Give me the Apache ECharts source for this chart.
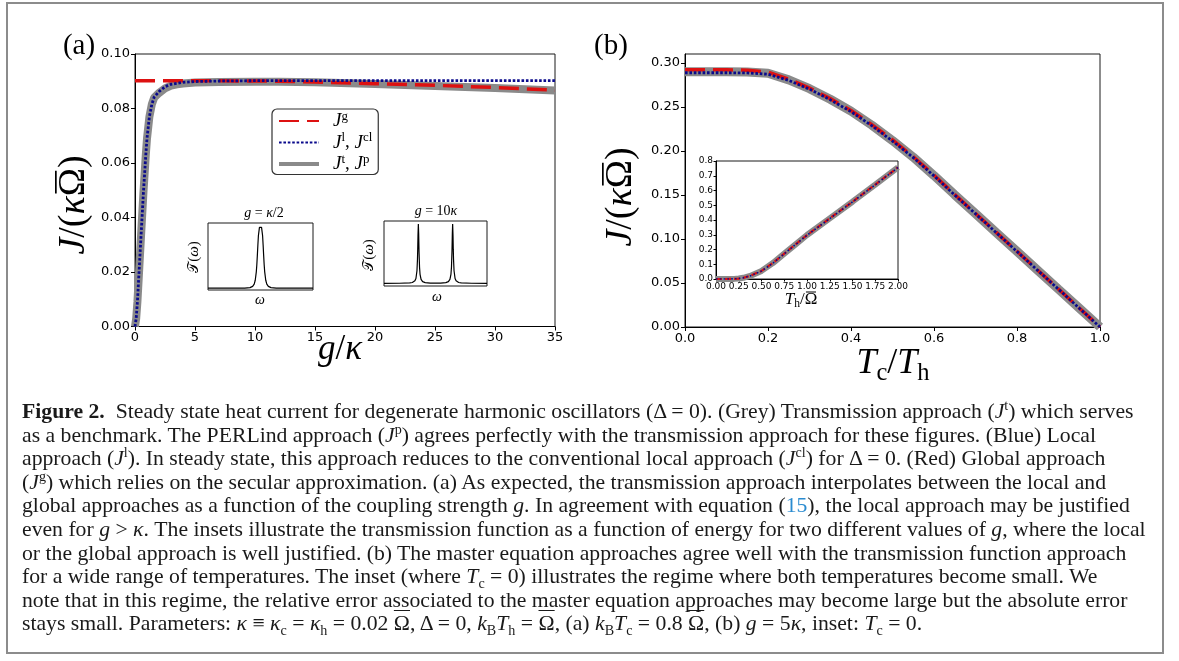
<!DOCTYPE html>
<html>
<head>
<meta charset="utf-8">
<script src="https://cdn.jsdelivr.net/npm/echarts@6/dist/echarts.min.js"></script>
<style>
html, body { margin: 0; padding: 0; background: #fff; }
#wrap { position: relative; width: 1179px; height: 661px; overflow: hidden; }
#chart { position: absolute; left: 0; top: 0; width: 1179px; height: 661px; }
#frame { position: absolute; left: 6px; top: 2px; width: 1154px; height: 648px; border: 2px solid #8c8c8c; pointer-events: none; }
#caption { position: absolute; left: 22px; top: 400px; font-family: 'Liberation Serif', serif; font-size: 18px; line-height: 23.6px; color: #1a1a1a; white-space: nowrap; }
#caption sup, #caption sub { font-size: 65%; line-height: 0; }
#caption .ref { color: #2a8bd0; }
#caption .ob { text-decoration: overline; text-decoration-thickness: 1px; }
</style>
</head>
<body>
<div id="wrap">
  <div id="chart"></div>
  <div id="frame"></div>
  <div id="caption">
    <div class="ln"><b>Figure 2.</b>&nbsp; Steady state heat current for degenerate harmonic oscillators (Δ = 0). (Grey) Transmission approach (<i>J</i><sup>t</sup>) which serves</div>
    <div class="ln">as a benchmark. The PERLind approach (<i>J</i><sup>p</sup>) agrees perfectly with the transmission approach for these figures. (Blue) Local</div>
    <div class="ln">approach (<i>J</i><sup>l</sup>). In steady state, this approach reduces to the conventional local approach (<i>J</i><sup>cl</sup>) for Δ = 0. (Red) Global approach</div>
    <div class="ln">(<i>J</i><sup>g</sup>) which relies on the secular approximation. (a) As expected, the transmission approach interpolates between the local and</div>
    <div class="ln">global approaches as a function of the coupling strength <i>g</i>. In agreement with equation (<span class="ref">15</span>), the local approach may be justified</div>
    <div class="ln">even for <i>g</i> &gt; <i>κ</i>. The insets illustrate the transmission function as a function of energy for two different values of <i>g</i>, where the local</div>
    <div class="ln">or the global approach is well justified. (b) The master equation approaches agree well with the transmission function approach</div>
    <div class="ln">for a wide range of temperatures. The inset (where <i>T</i><sub>c</sub> = 0) illustrates the regime where both temperatures become small. We</div>
    <div class="ln">note that in this regime, the relative error associated to the master equation approaches may become large but the absolute error</div>
    <div class="ln">stays small. Parameters: <i>κ</i> ≡ <i>κ</i><sub>c</sub> = <i>κ</i><sub>h</sub> = 0.02 <span class="ob">Ω</span>, Δ = 0, <i>k</i><sub>B</sub><i>T</i><sub>h</sub> = <span class="ob">Ω</span>, (a) <i>k</i><sub>B</sub><i>T</i><sub>c</sub> = 0.8 <span class="ob">Ω</span>, (b) <i>g</i> = 5<i>κ</i>, inset: <i>T</i><sub>c</sub> = 0.</div>
  </div>
</div>
<script>
// ---- panel (a): heat current vs g/kappa ----
const gT  = [0, 0.1, 0.2, 0.3, 0.4, 0.5, 0.6, 0.7, 0.8, 0.9, 1.0, 1.2, 1.4, 1.6, 2.0, 2.5, 3, 3.5, 4, 5, 7, 10, 12, 15, 20, 25, 30, 35]
const jtA = [0, 0.003, 0.009, 0.017, 0.025, 0.033, 0.041, 0.049, 0.056, 0.063, 0.069, 0.077, 0.0815, 0.0840, 0.0857, 0.0874, 0.0884, 0.0889, 0.0892, 0.0895, 0.0897, 0.0898, 0.0898, 0.0896, 0.0890, 0.0883, 0.0875, 0.0866]
const gL  = [0, 0.1, 0.2, 0.3, 0.4, 0.5, 0.6, 0.7, 0.8, 0.9, 1.0, 1.2, 1.4, 1.6, 2.0, 2.5, 3, 4, 5, 7, 10, 35]
const jlA = [0, 0.003, 0.009, 0.017, 0.025, 0.033, 0.041, 0.049, 0.056, 0.063, 0.069, 0.077, 0.0815, 0.0842, 0.0862, 0.0880, 0.0889, 0.0896, 0.0899, 0.0901, 0.0902, 0.0902]
const gG  = [0, 5, 10, 12, 15, 18.5, 20, 25, 30, 35]
const jgA = [0.0902, 0.0902, 0.0901, 0.0900, 0.0897, 0.0893, 0.0891, 0.0885, 0.0877, 0.0867]
const xTicksA = [0, 5, 10, 15, 20, 25, 30, 35]
const yTicksA = [0, 0.02, 0.04, 0.06, 0.08, 0.10]

// insets of (a): transmission function T(omega), omega in arbitrary units
const wA1 = [-1, -0.5, -0.3, -0.2, -0.15, -0.12, -0.1, -0.08, -0.07, -0.06, -0.05, -0.04, -0.02, 0, 0.02, 0.04, 0.05, 0.06, 0.07, 0.08, 0.1, 0.12, 0.15, 0.2, 0.3, 0.5, 1]
const tA1 = [0, 0.0003, 0.0018, 0.0092, 0.0283, 0.0665, 0.129, 0.265, 0.381, 0.533, 0.703, 0.852, 0.989, 1, 0.989, 0.852, 0.703, 0.533, 0.381, 0.265, 0.129, 0.0665, 0.0283, 0.0092, 0.0018, 0.0003, 0]
const wA2 = [-1, -0.7, -0.5, -0.45, -0.42, -0.4, -0.38, -0.36, -0.35, -0.345, -0.34, -0.333, -0.327, -0.32, -0.31, -0.3, -0.28, -0.25, -0.2, -0.1, 0, 0.1, 0.2, 0.25, 0.28, 0.3, 0.31, 0.32, 0.327, 0.333, 0.34, 0.345, 0.35, 0.36, 0.38, 0.4, 0.42, 0.45, 0.5, 0.7, 1]
const tA2 = [0.0005, 0.0017, 0.0073, 0.0144, 0.0256, 0.042, 0.081, 0.212, 0.405, 0.576, 0.8, 1, 0.845, 0.537, 0.270, 0.152, 0.066, 0.028, 0.0117, 0.0046, 0.0035, 0.0046, 0.0117, 0.028, 0.066, 0.152, 0.270, 0.537, 0.845, 1, 0.8, 0.576, 0.405, 0.212, 0.081, 0.042, 0.0256, 0.0144, 0.0073, 0.0017, 0.0005]

// ---- panel (b): heat current vs Tc/Th ----
const tRatio = [0, 0.05, 0.1, 0.15, 0.2, 0.25, 0.3, 0.35, 0.4, 0.45, 0.5, 0.55, 0.6, 0.65, 0.7, 0.75, 0.8, 0.85, 0.9, 0.95, 1.0]
const jgB = [0.2923, 0.2923, 0.2923, 0.2918, 0.2895, 0.2815, 0.2715, 0.2595, 0.2460, 0.2300, 0.2125, 0.1935, 0.1725, 0.1505, 0.1290, 0.1075, 0.0860, 0.0645, 0.0430, 0.0215, 0]
const jlB = [0.2889, 0.2889, 0.2889, 0.2887, 0.2872, 0.2802, 0.2702, 0.2582, 0.2447, 0.2288, 0.2113, 0.1925, 0.1717, 0.1499, 0.1286, 0.1072, 0.0858, 0.0643, 0.0429, 0.0214, 0]
const jtB = [0.2900, 0.2900, 0.2900, 0.2898, 0.2883, 0.2808, 0.2708, 0.2588, 0.2453, 0.2294, 0.2119, 0.1930, 0.1721, 0.1502, 0.1288, 0.1073, 0.0859, 0.0644, 0.0429, 0.0215, 0]
const xTicksB = [0, 0.2, 0.4, 0.6, 0.8, 1.0]
const yTicksB = [0, 0.05, 0.10, 0.15, 0.20, 0.25, 0.30]

// inset of (b): Tc = 0, vs Th
const thIn = [0, 0.1, 0.2, 0.25, 0.3, 0.375, 0.5, 0.625, 0.75, 0.875, 1.0, 1.25, 1.5, 1.75, 2.0]
const jgIn = [0, 0, 0.0008, 0.003, 0.008, 0.021, 0.055, 0.108, 0.172, 0.235, 0.298, 0.411, 0.524, 0.640, 0.757]
const jlIn = [0, 0, 0.0008, 0.003, 0.008, 0.021, 0.054, 0.107, 0.171, 0.234, 0.297, 0.410, 0.523, 0.639, 0.756]
const jtIn = [0, 0, 0.0008, 0.003, 0.008, 0.021, 0.055, 0.108, 0.172, 0.235, 0.298, 0.411, 0.524, 0.640, 0.757]
const xTicksIn = [0, 0.25, 0.5, 0.75, 1.0, 1.25, 1.5, 1.75, 2.0]
const yTicksIn = [0, 0.1, 0.2, 0.3, 0.4, 0.5, 0.6, 0.7, 0.8]

const RED = '#dd1111'
const BLUE = '#0a0a8c'
const GRAY = '#8a8a8a'
const SERIF = 'Liberation Serif'
const SANS = 'DejaVu Sans'

const pairs = (xs, ys) => xs.map((x, i) => [x, ys[i]])

// rich text set for math-like labels
const mrich = (s, lh) => {
    const h = lh || s * 1.2
    return {
        i: { fontFamily: SERIF, fontStyle: 'italic', fontSize: s, lineHeight: h, color: '#000' },
        r: { fontFamily: SERIF, fontSize: s, lineHeight: h, color: '#000' },
        c: { fontFamily: SANS, fontSize: s * 0.95, lineHeight: h, color: '#000' },
        sub: { fontFamily: SERIF, fontSize: s * 0.68, lineHeight: s * 0.55, verticalAlign: 'bottom', color: '#000' },
        sup: { fontFamily: SERIF, fontSize: s * 0.68, lineHeight: s * 0.52, verticalAlign: 'top', color: '#000' }
    }
}

// measure a run of tokens so the bar over Omega can be placed
const mctx = document.createElement('canvas').getContext('2d')
const tokenFont = (kind, s) => kind === 'i' ? 'italic ' + s + 'px "' + SERIF + '"'
    : kind === 'sub' ? (s * 0.68) + 'px "' + SERIF + '"'
    : s + 'px "' + SERIF + '"'
const measure = (tokens, s) => tokens.reduce((acc, t) => {
    mctx.font = tokenFont(t[0], s)
    return acc + mctx.measureText(t[1]).width
}, 0)

// label made of tokens; the token flagged 'bar' gets a bar over it
const barLabel = (x, y, rot, tokens, s) => {
    const text = tokens.map(t => '{' + t[0] + '|' + t[1] + '}').join('')
    const total = measure(tokens, s)
    const k = tokens.findIndex(t => t[2] === 'bar')
    const left = -total / 2 + measure(tokens.slice(0, k), s)
    const wO = measure([tokens[k]], s)
    return {
        type: 'group', x: x, y: y, rotation: rot,
        children: [
            { type: 'text', style: { text: text, rich: mrich(s), align: 'center', verticalAlign: 'middle' } },
            { type: 'rect', shape: { x: left + wO * 0.1, y: -0.5 * s, width: wO * 0.8, height: Math.max(1, 0.045 * s) }, style: { fill: '#000' } }
        ]
    }
}

const valueAxis = (grid, min, max, ticks, digits, size) => ({
    type: 'value', gridIndex: grid, min: min, max: max,
    axisLine: { show: true, onZero: false, lineStyle: { color: '#000', width: 1 } },
    axisTick: { show: true, customValues: ticks, length: size > 10 ? 4 : 2.5, lineStyle: { color: '#000' } },
    axisLabel: { customValues: ticks, formatter: v => v.toFixed(digits), fontFamily: SANS, fontSize: size, color: '#000', margin: size > 10 ? 5 : 3 },
    splitLine: { show: false }
})

const hiddenAxis = (grid, min, max) => ({ type: 'value', gridIndex: grid, min: min, max: max, show: false, splitLine: { show: false } })

const line = (name, xi, yi, data, color, width, type, z) => ({
    type: 'line', name: name, xAxisIndex: xi, yAxisIndex: yi, data: data,
    symbol: 'none', silent: true, z: z,
    itemStyle: { color: color },
    lineStyle: { color: color, width: width, type: type }
})

const chart = echarts.init(document.getElementById('chart'))

const gridBox = (left, top, width, height) => ({
    left: left, top: top, width: width, height: height,
    show: true, borderColor: '#1a1a1a', borderWidth: 1, backgroundColor: 'transparent',
    containLabel: false, outerBoundsMode: 'none'
})

const yLabTokens = [['i', 'J'], ['r', '/('], ['i', 'κ'], ['r', 'Ω', 'bar'], ['r', ')']]

chart.setOption({
    animation: false,
    backgroundColor: '#fff',
    grid: [
        gridBox(135, 54, 420, 272.5),
        gridBox(208, 223, 105, 67),
        gridBox(384, 221, 103, 65),
        gridBox(685, 54, 415, 273),
        gridBox(716, 161, 182, 118)
    ],
    xAxis: [
        valueAxis(0, 0, 35, xTicksA, 0, 13),
        hiddenAxis(1, -1, 1),
        hiddenAxis(2, -1, 1),
        valueAxis(3, 0, 1, xTicksB, 1, 13),
        valueAxis(4, 0, 2, xTicksIn, 2, 9)
    ],
    yAxis: [
        valueAxis(0, 0, 0.1, yTicksA, 2, 13),
        hiddenAxis(1, -0.03, 1.06),
        hiddenAxis(2, -0.045, 1.05),
        valueAxis(3, 0, 0.3102, yTicksB, 2, 13),
        valueAxis(4, 0, 0.8, yTicksIn, 1, 9)
    ],
    legend: {
        data: [
            { name: 'Jg' },
            { name: 'Jl' },
            { name: 'Jt', lineStyle: { width: 4 } }
        ],
        orient: 'vertical',
        left: 272, top: 109,
        padding: [1, 6, 1, 5],
        itemGap: 1,
        itemWidth: 40, itemHeight: 16,
        itemStyle: { opacity: 0, borderWidth: 0 },
        borderColor: '#333', borderWidth: 1.2, borderRadius: 5,
        backgroundColor: '#fff',
        selectedMode: false,
        formatter: n => ({
            Jg: '{i|J}{sup|g}',
            Jl: '{i|J}{sup|l}{r|, }{i|J}{sup|cl}',
            Jt: '{i|J}{sup|t}{r|, }{i|J}{sup|p}'
        })[n],
        textStyle: { rich: mrich(19, 22), padding: [0, 0, 0, 9] }
    },
    series: [
        line('Jt', 0, 0, pairs(gT, jtA), GRAY, 8, 'solid', 2),
        line('Jg', 0, 0, pairs(gG, jgA), RED, 3.5, [20, 8], 3),
        line('Jl', 0, 0, pairs(gL, jlA), BLUE, 2.8, [2.6, 1.8], 4),
        line('T1', 1, 1, pairs(wA1, tA1), '#000', 1.2, 'solid', 3),
        line('T2', 2, 2, pairs(wA2, tA2), '#000', 1.2, 'solid', 3),
        line('Jt', 3, 3, pairs(tRatio, jtB), GRAY, 9, 'solid', 2),
        line('Jg', 3, 3, pairs(tRatio, jgB), RED, 3.5, [20, 8], 3),
        line('Jl', 3, 3, pairs(tRatio, jlB), BLUE, 2.8, [2.6, 1.8], 4),
        line('Jt', 4, 4, pairs(thIn, jtIn), GRAY, 6, 'solid', 2),
        line('Jg', 4, 4, pairs(thIn, jgIn), RED, 2.2, [6, 3], 3),
        line('Jl', 4, 4, pairs(thIn, jlIn), BLUE, 1.6, [1.6, 2.2], 4)
    ],
    graphic: [
        { type: 'text', x: 79, y: 46, style: { text: '(a)', font: '29px "Liberation Serif"', fill: '#000', align: 'center', verticalAlign: 'middle' } },
        { type: 'text', x: 611, y: 46, style: { text: '(b)', font: '29px "Liberation Serif"', fill: '#000', align: 'center', verticalAlign: 'middle' } },
        barLabel(74, 205, Math.PI / 2, yLabTokens, 38),
        barLabel(621, 197, Math.PI / 2, yLabTokens, 38),
        { type: 'text', x: 340, y: 350, style: { text: '{i|g}{r|/}{i|κ}', rich: mrich(35), align: 'center', verticalAlign: 'middle' } },
        { type: 'text', x: 893, y: 364, style: { text: '{i|T}{sub|c}{r|/}{i|T}{sub|h}', rich: mrich(36), align: 'center', verticalAlign: 'middle' } },
        { type: 'text', x: 264, y: 213, style: { text: '{i|g}{r| = }{i|κ}{r|/2}', rich: mrich(14), align: 'center', verticalAlign: 'middle' } },
        { type: 'text', x: 436, y: 211, style: { text: '{i|g}{r| = 10}{i|κ}', rich: mrich(14), align: 'center', verticalAlign: 'middle' } },
        { type: 'text', x: 194, y: 257, rotation: Math.PI / 2, style: { text: '{c|\u{1D4AF}}{r|(}{i|ω}{r|)}', rich: mrich(15), align: 'center', verticalAlign: 'middle' } },
        { type: 'text', x: 369, y: 255, rotation: Math.PI / 2, style: { text: '{c|\u{1D4AF}}{r|(}{i|ω}{r|)}', rich: mrich(15), align: 'center', verticalAlign: 'middle' } },
        { type: 'text', x: 260, y: 300, style: { text: '{i|ω}', rich: mrich(14), align: 'center', verticalAlign: 'middle' } },
        { type: 'text', x: 437, y: 297, style: { text: '{i|ω}', rich: mrich(14), align: 'center', verticalAlign: 'middle' } },
        barLabel(801, 300, 0, [['i', 'T'], ['sub', 'h'], ['r', '/'], ['r', 'Ω', 'bar']], 17)
    ]
})

// fit caption font so the first line spans the same width as in the figure
const lines = document.querySelectorAll('#caption .ln')
const first = lines[0]
first.style.display = 'inline-block'
const w = first.getBoundingClientRect().width
first.style.display = 'block'
document.getElementById('caption').style.fontSize = (18 * 1112 / w).toFixed(2) + 'px'
</script>
</body>
</html>
